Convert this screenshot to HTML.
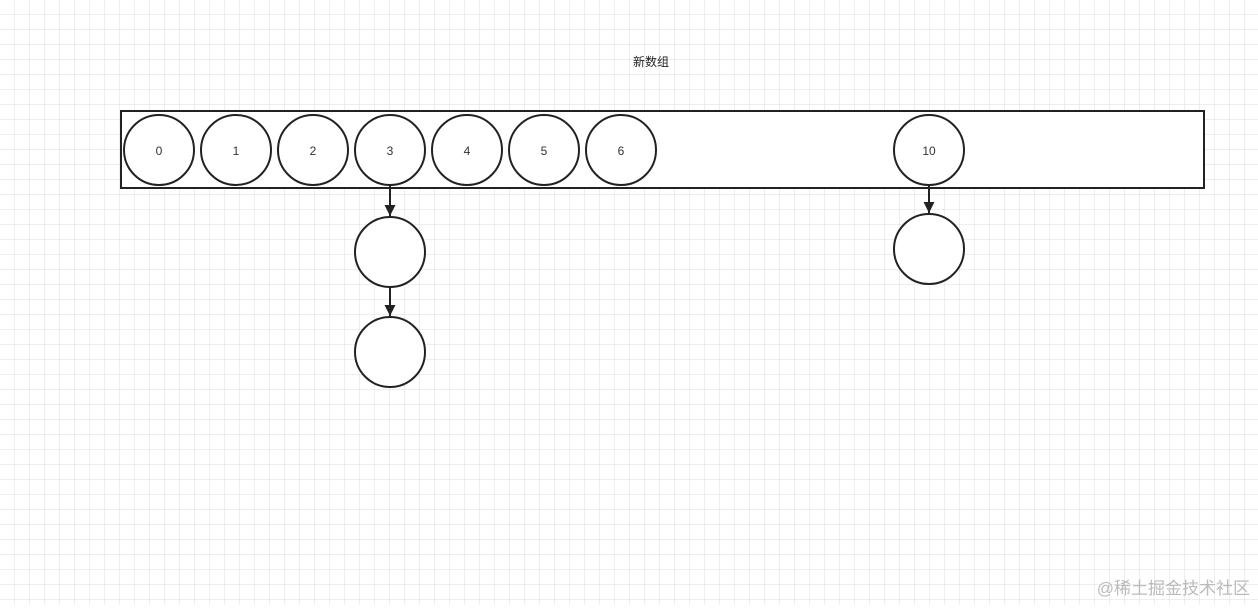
<!DOCTYPE html>
<html><head><meta charset="utf-8"><style>
body{margin:0;width:1258px;height:605px;overflow:hidden;background:#fff;}
</style></head><body>
<svg width="1258" height="605" xmlns="http://www.w3.org/2000/svg">
<defs>
<pattern id="g" width="15" height="15" patternUnits="userSpaceOnUse">
<path d="M15 0V15M0 15H15" fill="none" stroke="#dedede" stroke-width="1"/>
</pattern>
<marker id="a" markerWidth="12" markerHeight="12" refX="11" refY="5.5" orient="auto" markerUnits="userSpaceOnUse">
<path d="M0 0L11 5.5L0 11Z" fill="#222"/>
</marker>
</defs>
<rect width="1258" height="605" fill="url(#g)"/>
<text x="651" y="66" font-family="Liberation Sans, Noto Sans CJK SC, sans-serif" font-size="12" text-anchor="middle" fill="#222">新数组</text>
<rect x="121" y="111" width="1083" height="77" fill="#fff" stroke="#222" stroke-width="2"/>
<g fill="#fff" stroke="#222" stroke-width="2">
<circle cx="159" cy="150" r="35"/><circle cx="236" cy="150" r="35"/><circle cx="313" cy="150" r="35"/>
<circle cx="390" cy="150" r="35"/><circle cx="467" cy="150" r="35"/><circle cx="544" cy="150" r="35"/>
<circle cx="621" cy="150" r="35"/><circle cx="929" cy="150" r="35"/>
<circle cx="390" cy="252" r="35"/><circle cx="390" cy="352" r="35"/><circle cx="929" cy="249" r="35"/>
</g>
<g font-family="Liberation Sans, sans-serif" font-size="12" text-anchor="middle" fill="#333">
<text x="159" y="155">0</text><text x="236" y="155">1</text><text x="313" y="155">2</text>
<text x="390" y="155">3</text><text x="467" y="155">4</text><text x="544" y="155">5</text>
<text x="621" y="155">6</text><text x="929" y="155">10</text>
</g>
<g stroke="#222" stroke-width="2">
<line x1="390" y1="185" x2="390" y2="216" marker-end="url(#a)"/>
<line x1="390" y1="287" x2="390" y2="316" marker-end="url(#a)"/>
<line x1="929" y1="185" x2="929" y2="213" marker-end="url(#a)"/>
</g>
<text x="1250" y="594" font-family="Liberation Sans, Noto Sans CJK SC, sans-serif" font-size="17" text-anchor="end" fill="#bbb">@稀土掘金技术社区</text>
</svg>
</body></html>
